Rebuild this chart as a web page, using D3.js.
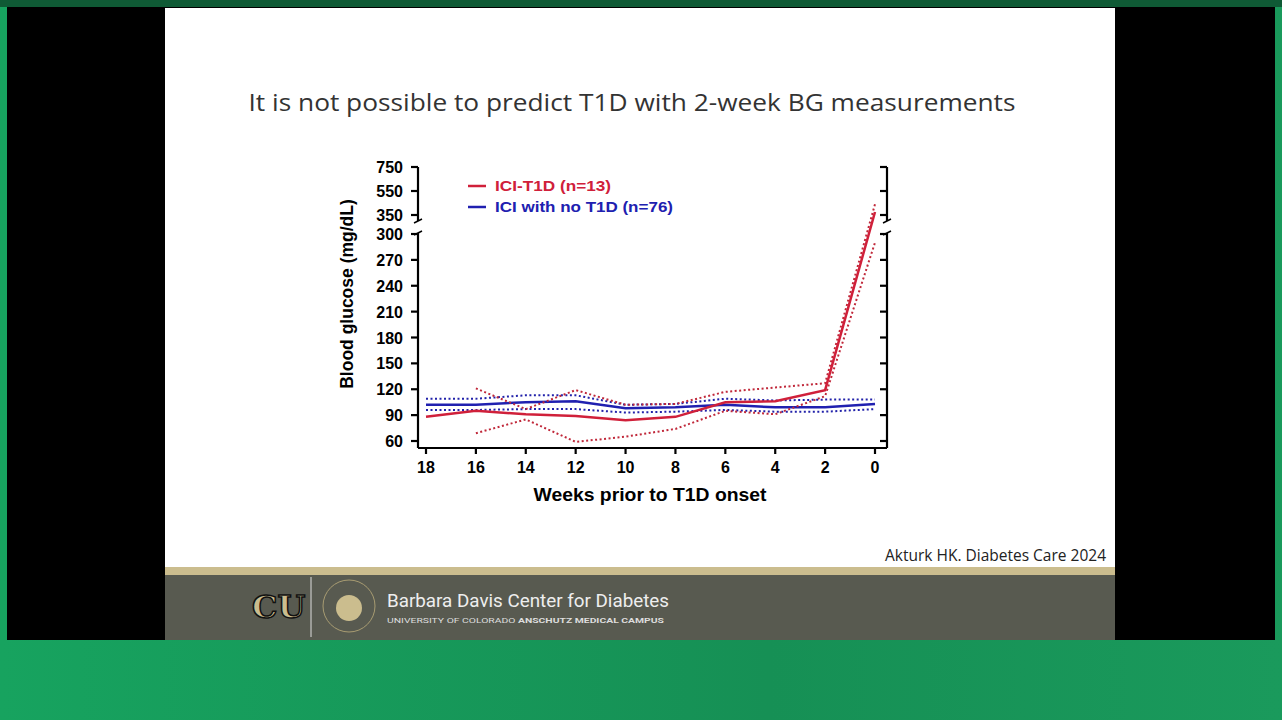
<!DOCTYPE html>
<html><head><meta charset="utf-8">
<script src="https://cdn.jsdelivr.net/npm/d3@7"></script>
<style>body{margin:0;overflow:hidden;background:#000}</style>
</head><body>
<svg width="1282" height="720"></svg>
<script>
const weeks = [18, 16, 14, 12, 10, 8, 6, 4, 2, 0];
const t1dMean = [88, 95, 91, 89, 84, 88, 105, 106, 119, 375];
const t1dUpper = [null, 121, 97, 119, 102, 103, 117, 122, 127, 440];
const t1dLower = [null, 69, 85, 59, 65, 74, 95, 91, 112, 290];
const noMean = [102, 102, 105, 106, 98, 99, 102, 99, 99, 103];
const noUpper = [109, 109, 113, 113, 102, 103, 109, 107, 108, 108];
const noLower = [96, 96, 97, 97, 93, 94, 96, 94, 94, 97];
const lowTicks = [60, 90, 120, 150, 180, 210, 240, 270, 300];
const highTicks = [350, 550, 750];

const svg = d3.select("svg");
const defs = svg.append("defs");
const gr = defs.append("linearGradient").attr("id", "bg").attr("x1", 0).attr("x2", 1);
gr.append("stop").attr("offset", 0).attr("stop-color", "#17a35f");
gr.append("stop").attr("offset", 0.6).attr("stop-color", "#169055");
gr.append("stop").attr("offset", 1).attr("stop-color", "#1a9a5c");
svg.append("rect").attr("width", 1282).attr("height", 720).attr("fill", "url(#bg)");
svg.append("rect").attr("width", 1282).attr("height", 7).attr("fill", "#0f5a35");
svg.append("rect").attr("x", 7).attr("y", 7).attr("width", 1268).attr("height", 633).attr("fill", "#000");
svg.append("rect").attr("x", 165).attr("y", 8).attr("width", 950).attr("height", 560).attr("fill", "#fff");
svg.append("rect").attr("x", 165).attr("y", 567).attr("width", 950).attr("height", 8).attr("fill", "#cbbd8e");
svg.append("rect").attr("x", 165).attr("y", 575).attr("width", 950).attr("height", 65).attr("fill", "#585a50");

svg.append("text").attr("x", 632).attr("y", 111).attr("text-anchor", "middle")
  .attr("font-family", "Open Sans").attr("font-size", 23).attr("fill", "#333")
  .attr("textLength", 767).attr("lengthAdjust", "spacingAndGlyphs")
  .text("It is not possible to predict T1D with 2-week BG measurements");
svg.append("text").attr("x", 1106).attr("y", 561).attr("text-anchor", "end")
  .attr("font-family", "Open Sans").attr("font-size", 15.5).attr("fill", "#222")
  .text("Akturk HK. Diabetes Care 2024");

// footer
svg.append("text").attr("x", 252).attr("y", 618).attr("font-family", "DejaVu Serif").attr("font-weight", "bold")
  .attr("font-size", 32).attr("fill", "#cbbd8e").attr("stroke", "#111").attr("stroke-width", 1.5).text("CU");
svg.append("line").attr("x1", 311).attr("x2", 311).attr("y1", 577).attr("y2", 637).attr("stroke", "#ddd");
svg.append("circle").attr("cx", 349).attr("cy", 606).attr("r", 26).attr("fill", "none").attr("stroke", "#a89c72");
svg.append("circle").attr("cx", 349).attr("cy", 608).attr("r", 13).attr("fill", "#cbbd8e");
svg.append("text").attr("x", 387).attr("y", 607).attr("font-family", "Roboto")
  .attr("font-size", 18).attr("fill", "#eee").attr("textLength", 282).attr("lengthAdjust", "spacingAndGlyphs")
  .text("Barbara Davis Center for Diabetes");
const sub = svg.append("text").attr("x", 387).attr("y", 623).attr("font-family", "Roboto")
  .attr("font-size", 8).attr("fill", "#ddd").attr("textLength", 277).attr("lengthAdjust", "spacingAndGlyphs");
sub.append("tspan").text("UNIVERSITY OF COLORADO ");
sub.append("tspan").attr("font-weight", "bold").text("ANSCHUTZ MEDICAL CAMPUS");

// chart
const x = d3.scaleLinear().domain([18, 0]).range([426, 875]);
const yLow = d3.scaleLinear().domain([60, 300]).range([441, 234]);
const yHigh = d3.scaleLinear().domain([350, 750]).range([215, 167]);
const y = v => v <= 300 ? yLow(v) : yHigh(v);
const font = "Liberation Sans, Arial";
const g = svg.append("g").attr("font-family", font).attr("font-weight", "bold");

const axL = 418, axR = 887, axB = 448;
const lw = 2.2;
g.append("line").attr("x1", axL).attr("x2", axR).attr("y1", axB).attr("y2", axB).attr("stroke", "#000").attr("stroke-width", lw);
[axL, axR].forEach(ax => {
  g.append("line").attr("x1", ax).attr("x2", ax).attr("y1", axB).attr("y2", yLow(300) - 1).attr("stroke", "#000").attr("stroke-width", lw);
  g.append("line").attr("x1", ax).attr("x2", ax).attr("y1", yHigh(750)).attr("y2", 221).attr("stroke", "#000").attr("stroke-width", lw);
  lowTicks.concat(highTicks).forEach(t => g.append("line").attr("x1", ax).attr("x2", ax - 7)
    .attr("y1", y(t)).attr("y2", y(t)).attr("stroke", "#000").attr("stroke-width", lw));
  [221, 233].forEach(yy => g.append("line").attr("x1", ax - 4).attr("x2", ax + 4).attr("y1", yy + 2).attr("y2", yy - 2)
    .attr("stroke", "#000").attr("stroke-width", 1.5));
});
g.selectAll(".yl").data(lowTicks.concat(highTicks)).join("text").attr("x", 403).attr("y", d => y(d) + 6)
  .attr("text-anchor", "end").attr("font-size", 16).text(d => d);
weeks.forEach(w => {
  g.append("line").attr("x1", x(w)).attr("x2", x(w)).attr("y1", axB).attr("y2", axB + 6).attr("stroke", "#000").attr("stroke-width", lw);
});
g.selectAll(".xl").data(weeks).join("text").attr("x", d => x(d)).attr("y", 473)
  .attr("text-anchor", "middle").attr("font-size", 16).text(d => d);
g.append("text").attr("x", 650).attr("y", 501).attr("text-anchor", "middle").attr("font-size", 18.5)
  .attr("textLength", 233).attr("lengthAdjust", "spacingAndGlyphs").text("Weeks prior to T1D onset");
g.append("text").attr("transform", "translate(353,294) rotate(-90)").attr("text-anchor", "middle")
  .attr("font-size", 17.5).text("Blood glucose (mg/dL)");

const line = d3.line().defined(d => d[1] != null).x(d => x(d[0])).y(d => y(d[1]));
const series = [
  [noUpper, "#2222aa", "2,2.5", 2], [noLower, "#2222aa", "2,2.5", 2], [noMean, "#2020b0", null, 2.5],
  [t1dUpper, "#c0283a", "2,2.5", 2], [t1dLower, "#c0283a", "2,2.5", 2], [t1dMean, "#d0203a", null, 2.5]
];
series.forEach(([vals, col, dash, w]) => {
  g.append("path").datum(weeks.map((wk, i) => [wk, vals[i]])).attr("d", line).attr("fill", "none")
    .attr("stroke", col).attr("stroke-width", w).attr("stroke-dasharray", dash);
});

const legend = [["ICI-T1D (n=13)", "#d0203a", 116], ["ICI with no T1D (n=76)", "#2020b0", 178]];
legend.forEach(([t, c, len], i) => {
  const ly = 186 + i * 21;
  g.append("line").attr("x1", 468).attr("x2", 486).attr("y1", ly).attr("y2", ly).attr("stroke", c).attr("stroke-width", 2.5);
  g.append("text").attr("x", 495).attr("y", ly + 5).attr("font-size", 15).attr("fill", c)
    .attr("textLength", len).attr("lengthAdjust", "spacingAndGlyphs").text(t);
});
</script>
</body></html>
